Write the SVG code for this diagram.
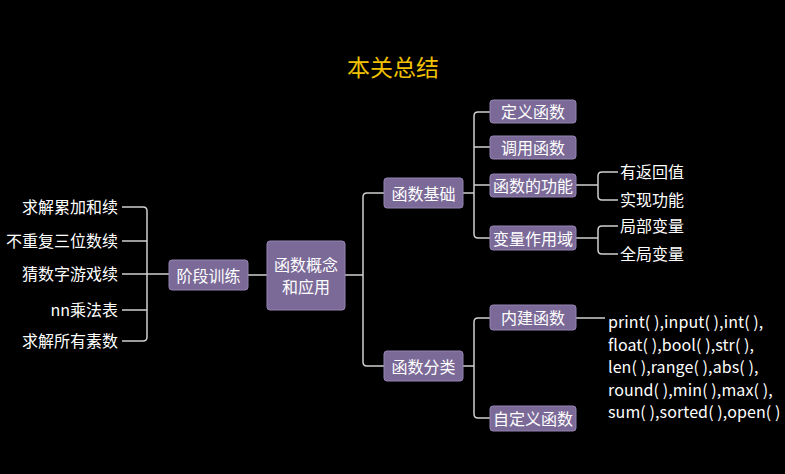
<svg xmlns="http://www.w3.org/2000/svg" width="785" height="474" viewBox="0 0 785 474">
<style>
text{font-family:"Noto Sans CJK SC","Noto Sans",sans-serif;fill:#ffffff;font-size:16px}
.box{fill:#7b6a98;stroke:#9584b3;stroke-width:1}
.c{text-anchor:middle;dominant-baseline:central}
.r{text-anchor:end;dominant-baseline:central}
.l{text-anchor:start;dominant-baseline:central}
.code{font-size:16px;letter-spacing:0.1px}
#connectors path{fill:none;stroke:#d0d0d0;stroke-width:1.5}
</style>
<rect width="785" height="474" fill="#000"/>
<text x="393" y="66" class="c" style="fill:#f2c200;font-size:23px">本关总结</text>
<g id="connectors">
<path d="M122 207H143Q147 207 147 211V337Q147 341 143 341H122"/>
<path d="M122 241H147M122 274H170M122 310H147"/>
<path d="M248 275H267"/>
<path d="M345 275H363M384 193H367Q363 193 363 197V362Q363 366 367 366H384"/>
<path d="M463 193H474M490 112H478Q474 112 474 116V234Q474 238 478 238H490M474 147H490M474 185H490"/>
<path d="M463 366H474M490 318H478Q474 318 474 322V414Q474 418 478 418H490"/>
<path d="M576 185H598M618 172H602Q598 172 598 176V196Q598 200 602 200H618"/>
<path d="M576 238H598M618 226H602Q598 226 598 230V250Q598 254 602 254H618"/>
<path d="M576 318H605"/>
</g>
<g id="left-items">
<text x="118" y="206" class="r">求解累加和续</text>
<text x="118" y="240" class="r">不重复三位数续</text>
<text x="118" y="273" class="r">猜数字游戏续</text>
<text x="118" y="309" class="r">nn乘法表</text>
<text x="118" y="340" class="r">求解所有素数</text>
</g>
<g id="n-jieduan"><rect class="box" x="169" y="260" width="79" height="30" rx="3"/><text x="208.5" y="274.5" class="c">阶段训练</text></g>
<g id="n-root"><rect class="box" x="267" y="241" width="78" height="69" rx="3"/><text x="306" y="264" class="c">函数概念</text><text x="306" y="286" class="c">和应用</text></g>
<g id="n-jichu"><rect class="box" x="384" y="178" width="79" height="30" rx="3"/><text x="423.5" y="192.5" class="c">函数基础</text></g>
<g id="n-fenlei"><rect class="box" x="384" y="351" width="79" height="30" rx="3"/><text x="423.5" y="365.5" class="c">函数分类</text></g>
<g id="n-dingyi"><rect class="box" x="490" y="100" width="86" height="23" rx="3"/><text x="533" y="111" class="c">定义函数</text></g>
<g id="n-diaoyong"><rect class="box" x="490" y="136" width="86" height="23" rx="3"/><text x="533" y="147" class="c">调用函数</text></g>
<g id="n-gongneng"><rect class="box" x="490" y="174" width="86" height="23" rx="3"/><text x="533" y="185" class="c">函数的功能</text></g>
<g id="n-zuoyongyu"><rect class="box" x="490" y="226" width="86" height="24" rx="3"/><text x="533" y="237.5" class="c">变量作用域</text></g>
<g id="n-neijian"><rect class="box" x="490" y="305" width="86" height="25" rx="3"/><text x="533" y="317" class="c">内建函数</text></g>
<g id="n-zidingyi"><rect class="box" x="490" y="406" width="86" height="25" rx="3"/><text x="533" y="418" class="c">自定义函数</text></g>
<g id="right-items">
<text x="620" y="171" class="l">有返回值</text>
<text x="620" y="199" class="l">实现功能</text>
<text x="620" y="225" class="l">局部变量</text>
<text x="620" y="253" class="l">全局变量</text>
</g>
<g id="builtins">
<text x="608" y="321" class="l code">print( ),input( ),int( ),</text>
<text x="608" y="344" class="l code">float( ),bool( ),str( ),</text>
<text x="608" y="366" class="l code">len( ),range( ),abs( ),</text>
<text x="608" y="389" class="l code">round( ),min( ),max( ),</text>
<text x="608" y="411" class="l code">sum( ),sorted( ),open( )</text>
</g>
</svg>
